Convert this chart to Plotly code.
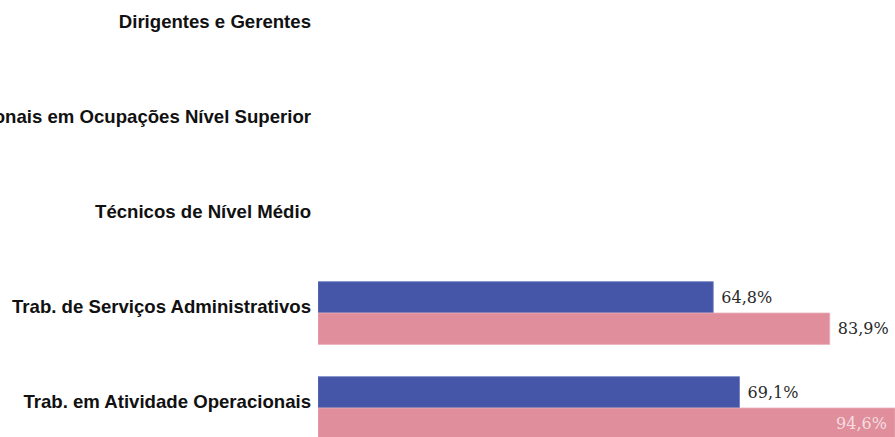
import plotly.graph_objects as go

categories = [
    "Dirigentes e Gerentes",
    "Profissionais em Ocupações Nível Superior",
    "Técnicos de Nível Médio",
    "Trab. de Serviços Administrativos",
    "Trab. em Atividade Operacionais",
]
serie_a = [None, None, None, 64.8, 69.1]
serie_b = [None, None, None, 83.9, 94.6]
positions_b = ["outside", "outside", "outside", "outside", "inside"]

NB = "\u00a0"

def fmt(v, pos="outside"):
    if v is None:
        return ""
    s = f"{v:.1f}".replace(".", ",") + "%"
    return (s + NB) if pos == "inside" else (NB + s)

ypos = list(range(len(categories)))
LBL = dict(family="DejaVu Serif", size=16, color="#2a2a2a")

fig = go.Figure()
fig.add_trace(go.Bar(
    y=ypos, x=serie_a, orientation="h", name="A",
    marker=dict(color="#4556A8", line=dict(color="#6a78c0", width=0.8)),
    text=[fmt(v) for v in serie_a], textposition="outside",
    textfont=LBL, outsidetextfont=LBL,
    cliponaxis=False,
))
fig.add_trace(go.Bar(
    y=ypos, x=serie_b, orientation="h", name="B",
    marker=dict(color="#E08E9C", line=dict(color="#eab0ba", width=0.8)),
    text=[fmt(v, p) for v, p in zip(serie_b, positions_b)],
    textposition=positions_b,
    insidetextanchor="end",
    textfont=LBL, outsidetextfont=LBL,
    insidetextfont=dict(family="DejaVu Serif", size=16, color="rgba(255,255,255,0.7)"),
    cliponaxis=False,
))

fig.update_layout(
    width=895, height=437,
    margin=dict(l=318, r=0, t=0, b=0, autoexpand=False),
    barmode="group", bargap=0.34, bargroupgap=0,
    showlegend=False,
    plot_bgcolor="white", paper_bgcolor="white",
)
fig.update_xaxes(range=[0, 94.6], visible=False, showgrid=False)
fig.update_yaxes(
    range=[4.305, -0.295],
    tickvals=[p - 0.065 for p in ypos], ticktext=categories,
    showgrid=False, zeroline=False, showline=False, ticks="",
    tickfont=dict(family="Liberation Sans", size=18.6, color="#111111", weight="bold"),
    ticklabelstandoff=6,
    automargin=False,
)

fig.write_html(
    "out.html",
    config={"displayModeBar": False},
    post_script="document.body.style.margin='0';document.body.style.overflow='hidden';",
)
